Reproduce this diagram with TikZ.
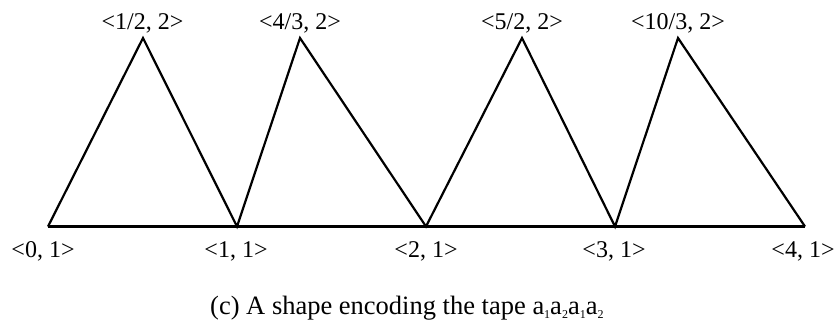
\documentclass[tikz,border=0pt]{standalone}
\usepackage{fontspec}
\setmainfont{Liberation Serif}
\newcommand{\tapesub}[1]{\raisebox{-0.35ex}{\fontsize{12}{13}\selectfont #1}}
\begin{document}
\begin{tikzpicture}[x=1pt,y=-1pt,
  edge/.style={line width=2.2pt,line join=miter},
  lbl/.style={font=\fontsize{24}{26}\selectfont,inner sep=0pt,anchor=base},
  captext/.style={font=\fontsize{26.5}{28}\selectfont,inner sep=0pt,anchor=base west}]
\useasboundingbox (0,0) rectangle (840,325);
\coordinate (b0) at (48,226.5);
\coordinate (b1) at (237,226.5);
\coordinate (b2) at (426,226.5);
\coordinate (b3) at (615,226.5);
\coordinate (b4) at (805,226.5);
\coordinate (t1) at (143,38);
\coordinate (t2) at (300,38);
\coordinate (t3) at (522,38);
\coordinate (t4) at (678,38);
\draw[edge] (b0) -- (b4);
\draw[edge] (b0) -- (t1) -- (b1) -- (t2) -- (b2) -- (t3) -- (b3) -- (t4) -- (b4);
\node[lbl] (l0) at (43,257) {<0, 1>};
\node[lbl] (l1) at (236,257) {<1, 1>};
\node[lbl] (l2) at (426,257) {<2, 1>};
\node[lbl] (l3) at (614,257) {<3, 1>};
\node[lbl] (l4) at (803,257) {<4, 1>};
\node[lbl] (m1) at (142.5,29) {<1/2, 2>};
\node[lbl] (m2) at (300,29) {<4/3, 2>};
\node[lbl] (m3) at (522,29) {<5/2, 2>};
\node[lbl] (m4) at (678,29) {<10/3, 2>};
\node[captext] (c) at (210,314) {(c) A shape encoding the tape a\tapesub{1}a\tapesub{2}a\tapesub{1}a\tapesub{2}};
\end{tikzpicture}
\end{document}
